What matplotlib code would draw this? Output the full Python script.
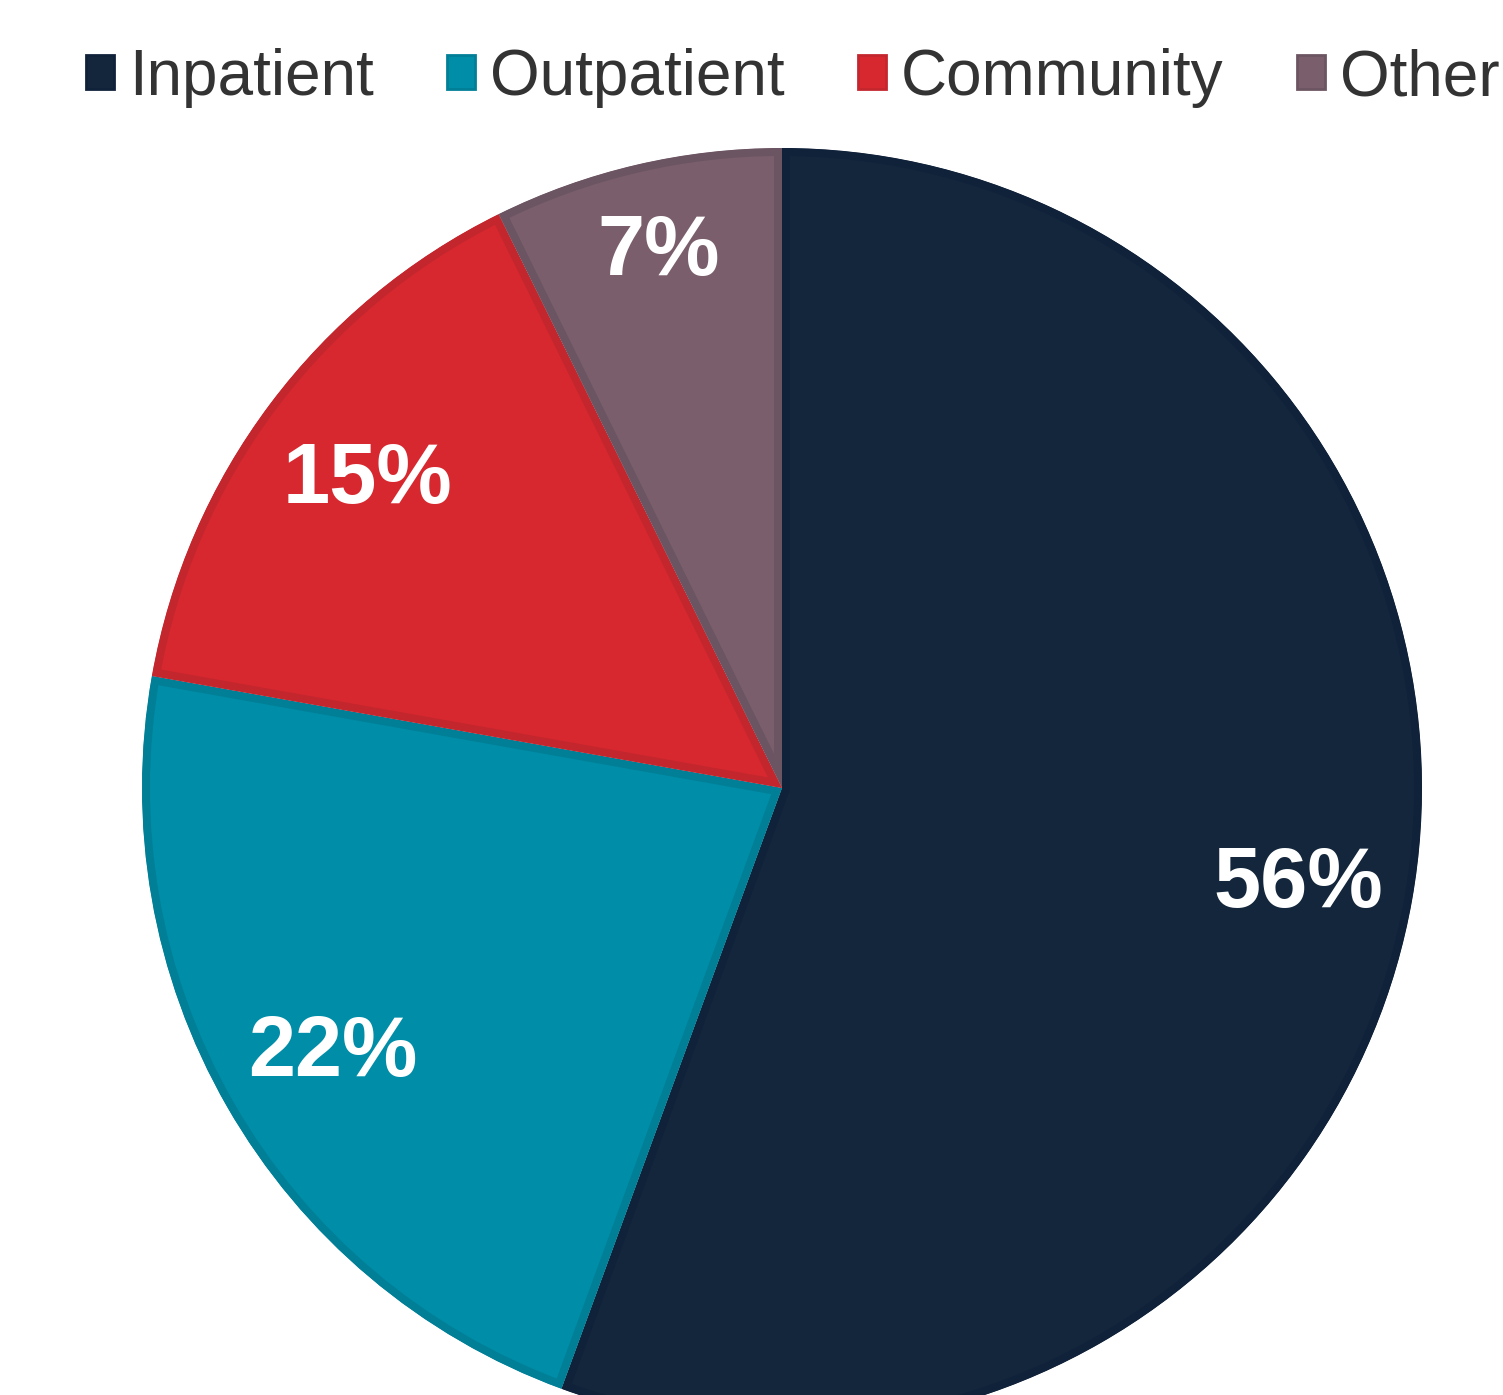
import matplotlib
matplotlib.use("Agg")
import matplotlib.pyplot as plt
from matplotlib.patches import Patch

categories = ["Inpatient", "Outpatient", "Community", "Other"]
shares = [55.6, 22.2, 14.9, 7.3]
fills = ["#13263b", "#008da8", "#d7282f", "#7a5e6b"]
edges = ["#10213a", "#007f97", "#c4262e", "#6c5562"]

plt.rcParams["font.family"] = ["Liberation Sans", "DejaVu Sans"]

W, H = 1503, 1395
fig = plt.figure(figsize=(W / 100, H / 100), dpi=100)
ax = fig.add_axes([0, 0, 1, 1])

cx, cy = 782, H - 788
wedges, texts, autotexts = ax.pie(
    shares,
    colors=fills,
    startangle=90,
    counterclock=False,
    center=(cx, cy),
    radius=640,
    autopct="%.0f%%",
    pctdistance=0.815,
    wedgeprops=dict(linewidth=11.5),
    textprops=dict(color="white", fontsize=61, fontweight="bold"),
    frame=False,
)

# darker inner border, kept inside each slice
for w, ec in zip(wedges, edges):
    w.set_edgecolor(ec)
    w.set_clip_on(True)
    w.set_clip_path(w)

# the smallest label sits a bit further out in the original
x, y = autotexts[3].get_position()
autotexts[3].set_position((cx + (x - cx) * 1.065, cy + (y - cy) * 1.065))
for t in autotexts:
    x, y = t.get_position()
    t.set_position((x + 3, y - 6))

ax.set_xlim(0, W)
ax.set_ylim(0, H)
ax.set_axis_off()

handles = [Patch(facecolor=f, edgecolor=e, linewidth=2) for f, e in zip(fills, edges)]
ax.legend(
    handles,
    categories,
    loc="center",
    bbox_to_anchor=(793, H - 78),
    bbox_transform=ax.transData,
    ncol=4,
    frameon=False,
    fontsize=46,
    labelcolor="#333333",
    handlelength=0.43,
    handleheight=0.43,
    handletextpad=0.24,
    columnspacing=1.15,
    borderaxespad=0,
    borderpad=0,
)

fig.savefig("out.png", dpi=100)
